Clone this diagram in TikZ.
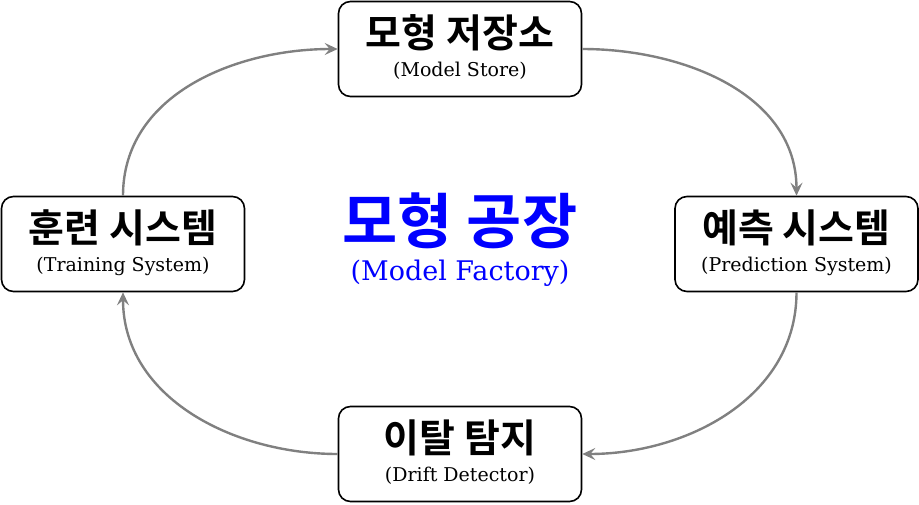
\documentclass[tikz,border=0pt]{standalone}
\usepackage{fontspec}
\setmainfont{DejaVu Serif}
\newfontfamily\kor{Noto Sans CJK KR}[BoldFont={Noto Sans CJK KR Bold}]
\usetikzlibrary{arrows.meta}
\definecolor{arrowgray}{RGB}{128,128,128}
\definecolor{titleblue}{RGB}{0,0,255}
\begin{document}
\begin{tikzpicture}[x=1pt,y=-1pt,
  box/.style={draw=black,line width=1.6pt,rounded corners=12pt,minimum width=243pt,minimum height=95pt,inner sep=0pt},
  kt/.style={font=\kor\bfseries\fontsize{39}{39}\selectfont,inner sep=0pt},
  et/.style={font=\fontsize{19}{19}\selectfont,inner sep=0pt},
  flow/.style={draw=arrowgray,line width=2.4pt,-{Stealth[length=13pt,width=12pt,inset=5pt]}}]
\useasboundingbox (0,0) rectangle (919,504);
\node[box] (store) at (460,49) {};
\node[kt] at (460,33) {모형 저장소};
\node[et] at (460,71) {(Model Store)};
\node[box] (train) at (123,244) {};
\node[kt] at (123,228) {훈련 시스템};
\node[et] at (123,266) {(Training System)};
\node[box] (pred) at (796.5,244) {};
\node[kt] at (796.5,228) {예측 시스템};
\node[et] at (796.5,266) {(Prediction System)};
\node[box] (drift) at (460,454) {};
\node[kt] at (460,438) {이탈 탐지};
\node[et] at (460,476) {(Drift Detector)};
\node[font=\kor\bfseries\fontsize{60}{60}\selectfont,text=titleblue,inner sep=0pt] (title) at (460,221) {모형 공장};
\node[font=\fontsize{27}{27}\selectfont,text=titleblue,inner sep=0pt] (sub) at (460,273) {(Model Factory)};
\draw[flow] (train.north) to[out=90,in=180] (store.west);
\draw[flow] (store.east) to[out=0,in=90] (pred.north);
\draw[flow] (pred.south) to[out=-90,in=0] (drift.east);
\draw[flow] (drift.west) to[out=180,in=-90] (train.south);
\end{tikzpicture}
\end{document}
